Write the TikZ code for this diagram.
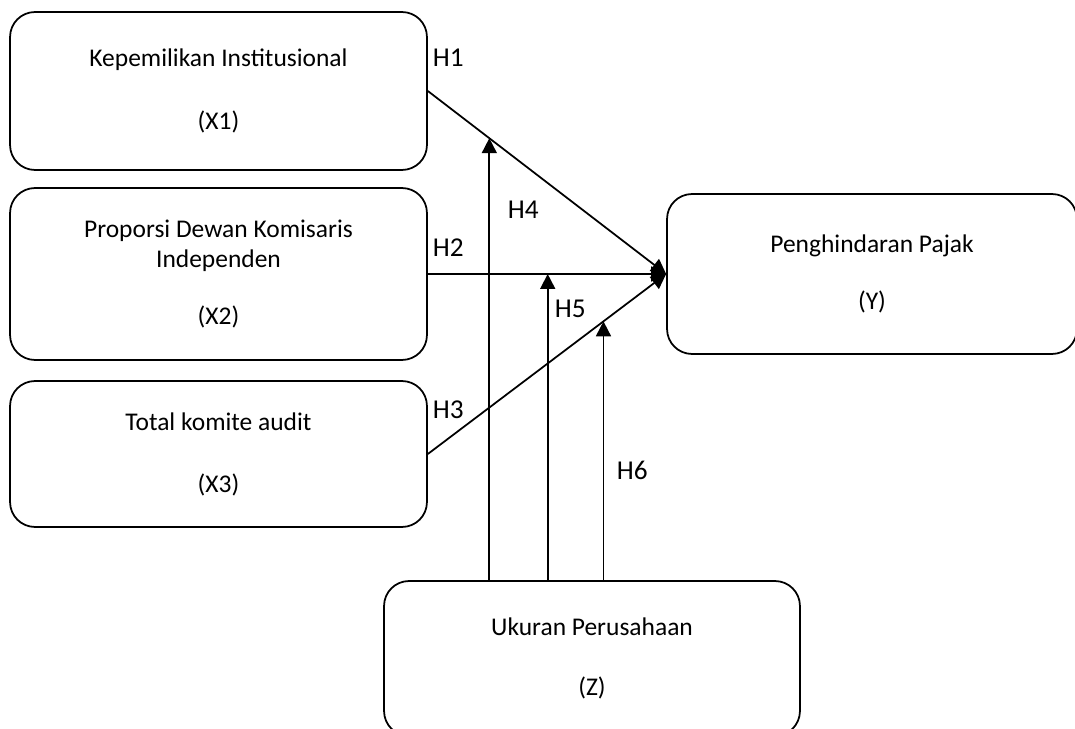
\documentclass[tikz,border=0pt]{standalone}
\usepackage{fontspec}
\setmainfont{Carlito}
\usetikzlibrary{arrows.meta, calc}

\begin{document}
\begin{tikzpicture}[
  x=0.02cm, y=-0.02cm,
  line width=1pt,
  font=\fontsize{14.5}{17.5}\selectfont,
  varbox/.style={draw, rounded corners=0.5cm, minimum width=8.34cm, align=center, inner sep=0pt},
  hlabel/.style={font=\fontsize{15.5}{18}\selectfont, anchor=west, inner sep=0pt},
  link/.style={-{Triangle[length=8.5pt,width=8.5pt]}}
]

% page frame
\useasboundingbox (0,0) rectangle (1075,729);

% ------------------- Variables ------------------- %
\node[varbox, minimum height=3.16cm] (x1) at (218.5,91) {Kepemilikan Institusional\\[18.8pt](X1)};
\node[varbox, minimum height=3.44cm] (x2) at (218.5,274) {Proporsi Dewan Komisaris\\Independen\\[14.8pt](X2)};
\node[varbox, minimum height=2.92cm] (x3) at (218.5,454) {Total komite audit\\[17.7pt](X3)};
\node[varbox, minimum width=8.2cm, minimum height=3.2cm] (y) at (872,274) {Penghindaran Pajak\\[15.4pt](Y)};
\node[varbox, minimum width=8.32cm, minimum height=3.1cm] (z) at (592,658.5) {Ukuran Perusahaan\\[17pt](Z)};

% ------------------- Direct effects ------------------- %
\draw[link] (x1.east) -- coordinate[pos=0.258] (t4) (y.west);
\draw[link] (x2.east) -- coordinate[pos=0.503] (t5) (y.west);
\draw[link] (x3.east) -- coordinate[pos=0.737] (t6) (y.west);

% ------------------- Moderation ------------------- %
\draw[link] (t4 |- z.north) -- (t4);
\draw[link] (t5 |- z.north) -- (t5);
\draw[link] (t6 |- z.north) -- (t6);

% hypothesis labels
\node[hlabel] (h1) at (432,58) {H1};
\node[hlabel] (h2) at (432,248) {H2};
\node[hlabel] (h3) at (432,410) {H3};
\node[hlabel] (h4) at (507,210) {H4};
\node[hlabel] (h5) at (554,309) {H5};
\node[hlabel] (h6) at (616,470) {H6};

\end{tikzpicture}
\end{document}
